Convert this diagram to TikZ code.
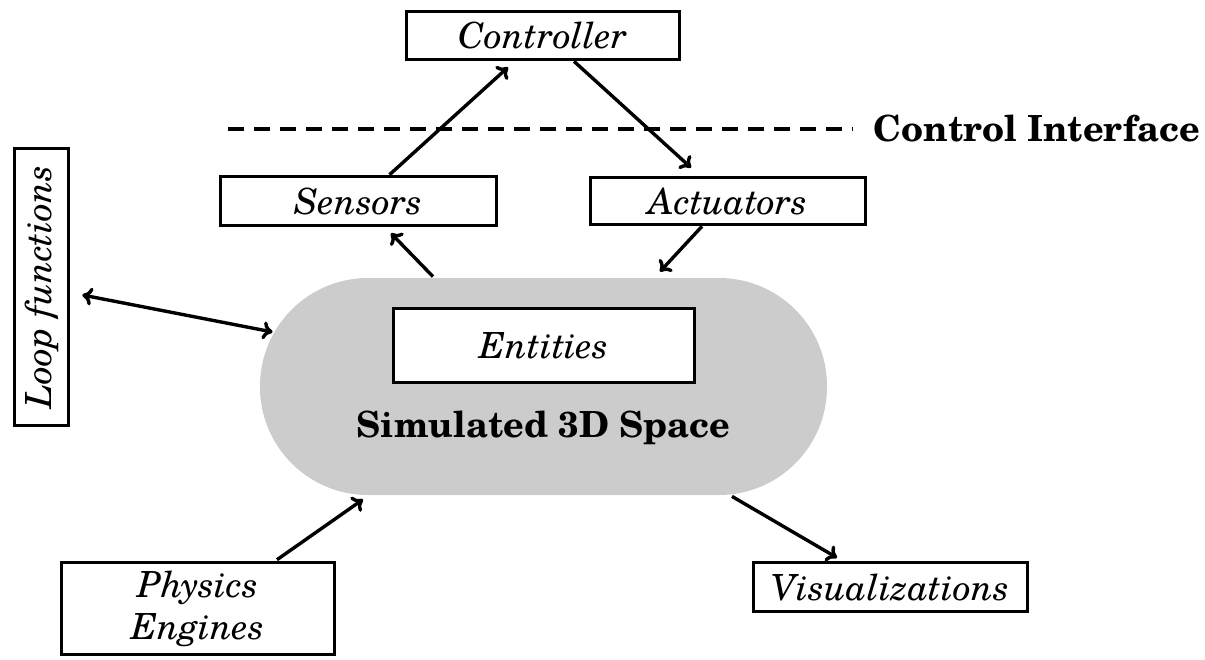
\documentclass[tikz,border=0pt]{standalone}
\usepackage{fontspec}
\setmainfont{texgyreschola}[Extension=.otf,UprightFont=*-regular,BoldFont=*-bold,ItalicFont=*-italic,BoldItalicFont=*-bolditalic]
\usetikzlibrary{calc,arrows.meta}
\tikzset{
  boxnode/.style={draw=black,line width=1.8pt,fill=white,inner sep=0pt,
    font=\fontsize{18}{21}\selectfont\itshape,align=center},
  conn/.style={line width=1.7pt,-{To[length=5pt,width=9pt]}},
  biconn/.style={line width=1.7pt,{To[length=5pt,width=9pt]}-{To[length=5pt,width=9pt]}},
  boldlabel/.style={font=\fontsize{18}{21}\selectfont\bfseries,inner sep=0pt}
}
\begin{document}
\begin{tikzpicture}[x=0.5pt,y=-0.5pt]
\useasboundingbox (0,0) rectangle (1205,659);
% gray simulated space
\node[fill=black!20,draw=none,rounded corners=54pt,minimum width=283.5pt,minimum height=108.5pt,inner sep=0pt] (space) at (543.5,386.5) {};
\node[boxnode,minimum width=150.5pt,minimum height=37pt] (ent) at (544,345.5) {Entities};
\node[boldlabel,anchor=base] (simlabel) at (543.5,437) {Simulated 3D Space};
% boxes
\node[boxnode,minimum width=136.5pt,minimum height=24pt] (ctl) at (543,35.5) {Controller};
\node[boxnode,minimum width=138pt,minimum height=24.5pt] (sen) at (358.5,201) {Sensors};
\node[boxnode,minimum width=137.5pt,minimum height=23.5pt] (act) at (728,201) {Actuators};
\node[boxnode,rotate=90,minimum width=138.5pt,minimum height=27pt] (loop) at (41.5,287) {Loop functions};
\node[boxnode,minimum width=136.5pt,minimum height=46pt] (phys) at (198,608.5) {Physics\\Engines};
\node[boxnode,minimum width=137pt,minimum height=24.5pt] (vis) at (890.5,587) {Visualizations};
% control interface
\coordinate (dl) at (228,129);
\coordinate (dr) at (853,129);
\draw[line width=1.6pt,dash pattern=on 8pt off 5pt] (dl) -- (dr);
\node[boldlabel,anchor=west] (ci) at (873,128) {Control Interface};
% connectors
\draw[conn] ($(sen.north)+(31,0)$) -- ($(ctl.south)+(-35,6)$);
\draw[conn] ($(ctl.south)+(31,0)$) -- ($(act.north)+(-37,-8)$);
\draw[conn] ($(space.north)+(-110.5,-1)$) -- ($(sen.south)+(32.5,6)$);
\draw[conn] ($(act.south)+(-26,0)$) -- ($(space.north)+(116.5,-6)$);
\draw[biconn] ($(loop.south)+(12,8)$) -- ($(space.west)+(13,-54.5)$);
\draw[conn] ($(phys.north)+(79,-1)$) -- ($(space.south)+(-180.5,4)$);
\draw[conn] ($(space.south)+(188.5,1)$) -- ($(vis.north)+(-53.5,-3)$);
\end{tikzpicture}
\end{document}
